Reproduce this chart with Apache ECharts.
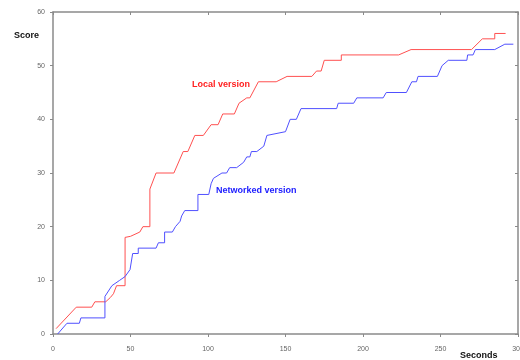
<!DOCTYPE html>
<html>
<head>
<meta charset="utf-8">
<script src="https://cdn.jsdelivr.net/npm/echarts@6/dist/echarts.min.js"></script>
<style>
  html, body { margin: 0; padding: 0; background: #fff; }
  #main { width: 520px; height: 360px; }
</style>
</head>
<body>
<div id="main"></div>
<script>
// local version: time (s) and score
var localTime = [2, 15, 25, 27, 34, 37, 39, 41, 46.5, 46.5, 50, 56, 58, 62.5, 62.5, 66.5, 78, 84, 87, 91.5,
  97, 102, 106.5, 109.5, 117, 120, 125, 127, 132.5, 144, 151, 167, 170, 173, 175, 186, 186, 223, 231, 270,
  277, 285, 285, 292];
var localScore = [1, 5, 5, 6, 6, 6.8, 7.5, 9, 9, 18, 18.2, 19, 20, 20, 27, 30, 30, 34, 34, 37,
  37, 39, 39, 41, 41, 43, 44, 44, 47, 47, 48, 48, 49, 49, 51, 51, 52, 52, 53, 53,
  55, 55, 56, 56];

// networked version
var networkTime = [3, 9, 17, 18, 33.5, 33.5, 38, 43, 46.5, 49.7, 51.4, 55, 55, 66.5, 68, 72, 72, 77, 79, 82,
  83, 85, 93.5, 93.5, 100.5, 102, 103.5, 109, 112, 114, 118.5, 123, 125, 127, 128, 131.5, 136, 138, 150, 153,
  157, 160, 183, 184, 194, 196, 213, 215, 228, 231.5, 234.5, 235.5, 248, 251, 255, 267, 267.5, 271, 272.5, 285,
  291.5, 297];
var networkScore = [0, 2, 2, 3, 3, 7, 9, 10, 10.7, 12, 15, 15, 16, 16, 17, 17, 19, 19, 20, 21,
  22, 23, 23, 26, 26, 28, 29, 30, 30, 31, 31, 32, 33, 33, 34, 34, 35, 37, 37.7, 40,
  40, 42, 42, 43, 43, 44, 44, 45, 45, 47, 47, 48, 48, 50, 51, 51, 52, 52, 53, 53,
  54, 54];

function pairs(xs, ys) {
  var out = [];
  for (var i = 0; i < xs.length; i++) out.push([xs[i], ys[i]]);
  return out;
}

var axisColor = "#8a8a8a";
var labelStyle = { fontSize: 7, color: "#666", fontFamily: "Liberation Sans" };

// mirrored axes (top / right) only draw the frame and inner ticks
function frameAxis(pos, max, step) {
  return {
    type: "value", min: 0, max: max, interval: step, position: pos,
    axisLine: { show: true, onZero: false, lineStyle: { color: axisColor, width: 1.5 } },
    axisTick: { show: true, inside: true, length: 3, lineStyle: { color: axisColor } },
    axisLabel: { show: false },
    splitLine: { show: false }
  };
}

var chart = echarts.init(document.getElementById("main"));
chart.setOption({
  animation: false,
  backgroundColor: "#fff",
  grid: { left: 53, right: 2, top: 12, bottom: 26, outerBoundsMode: "none" },
  xAxis: [
    {
      type: "value", min: 0, max: 300, interval: 50, position: "bottom",
      axisLine: { show: true, onZero: false, lineStyle: { color: axisColor, width: 1.5 } },
      axisTick: { show: true, inside: false, length: 3, lineStyle: { color: axisColor } },
      axisLabel: Object.assign({ margin: 12 }, labelStyle),
      splitLine: { show: false }
    },
    frameAxis("top", 300, 50)
  ],
  yAxis: [
    {
      type: "value", min: 0, max: 60, interval: 10, position: "left",
      axisLine: { show: true, onZero: false, lineStyle: { color: axisColor, width: 1.5 } },
      axisTick: { show: true, inside: false, length: 3, lineStyle: { color: axisColor } },
      axisLabel: Object.assign({ margin: 8 }, labelStyle),
      splitLine: { show: false }
    },
    frameAxis("right", 60, 10)
  ],
  series: [
    {
      name: "Local version", type: "line", xAxisIndex: 0, yAxisIndex: 0,
      showSymbol: false, smooth: false,
      lineStyle: { color: "#ff5050", width: 1 },
      data: pairs(localTime, localScore)
    },
    {
      name: "Networked version", type: "line", xAxisIndex: 0, yAxisIndex: 0,
      showSymbol: false, smooth: false,
      lineStyle: { color: "#5050ff", width: 1 },
      data: pairs(networkTime, networkScore)
    }
  ],
  graphic: [
    { type: "text", left: 14, top: 31, style: { text: "Score", font: "bold 9px Liberation Sans", fill: "#111" } },
    { type: "text", left: 460, top: 351, style: { text: "Seconds", font: "bold 9px Liberation Sans", fill: "#111" } },
    { type: "text", left: 192, top: 80, style: { text: "Local version", font: "bold 9px Liberation Sans", fill: "#ff2020" } },
    { type: "text", left: 216, top: 186, style: { text: "Networked version", font: "bold 9px Liberation Sans", fill: "#2020ff" } }
  ]
});
</script>
</body>
</html>
